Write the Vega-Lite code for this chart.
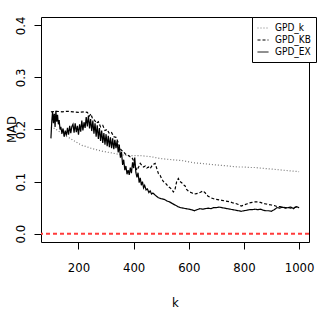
{
  "$schema": "https://vega.github.io/schema/vega-lite/v6.json",
  "autosize": {"type": "none"},
  "padding": {"left": 41, "top": 17, "right": 11, "bottom": 85},
  "width": 268,
  "height": 225,
  "config": {
    "view": {"stroke": "black", "strokeWidth": 1},
    "font": "Liberation Sans Narrow, DejaVu Sans Condensed, Liberation Sans",
    "axis": {"grid": false, "domain": false, "tickColor": "black", "tickSize": 7, "labelColor": "black", "titleColor": "black", "labelFontSize": 13, "titleFontSize": 13, "titleFontWeight": "normal", "labelFont": "Liberation Sans Narrow, DejaVu Sans Condensed, Liberation Sans", "titleFont": "Liberation Sans Narrow, DejaVu Sans Condensed, Liberation Sans"}
  },
  "layer": [
    {
      "data": {"values": [
        {"k":100,"s":"GPD_k","v":0.205},{"k":110,"s":"GPD_k","v":0.203},{"k":125,"s":"GPD_k","v":0.198},{"k":140,"s":"GPD_k","v":0.192},{"k":155,"s":"GPD_k","v":0.187},{"k":170,"s":"GPD_k","v":0.183},{"k":185,"s":"GPD_k","v":0.178},{"k":200,"s":"GPD_k","v":0.173},{"k":215,"s":"GPD_k","v":0.169},{"k":230,"s":"GPD_k","v":0.167},{"k":245,"s":"GPD_k","v":0.164},{"k":260,"s":"GPD_k","v":0.162},{"k":280,"s":"GPD_k","v":0.159},{"k":300,"s":"GPD_k","v":0.157},{"k":320,"s":"GPD_k","v":0.155},{"k":340,"s":"GPD_k","v":0.153},{"k":360,"s":"GPD_k","v":0.151},{"k":380,"s":"GPD_k","v":0.150},{"k":400,"s":"GPD_k","v":0.150},{"k":420,"s":"GPD_k","v":0.150},{"k":440,"s":"GPD_k","v":0.149},{"k":460,"s":"GPD_k","v":0.148},{"k":480,"s":"GPD_k","v":0.146},{"k":500,"s":"GPD_k","v":0.144},{"k":520,"s":"GPD_k","v":0.143},{"k":540,"s":"GPD_k","v":0.142},{"k":560,"s":"GPD_k","v":0.141},{"k":580,"s":"GPD_k","v":0.140},{"k":600,"s":"GPD_k","v":0.138},{"k":620,"s":"GPD_k","v":0.136},{"k":640,"s":"GPD_k","v":0.135},{"k":660,"s":"GPD_k","v":0.134},{"k":680,"s":"GPD_k","v":0.133},{"k":700,"s":"GPD_k","v":0.132},{"k":720,"s":"GPD_k","v":0.131},{"k":740,"s":"GPD_k","v":0.130},{"k":760,"s":"GPD_k","v":0.129},{"k":780,"s":"GPD_k","v":0.128},{"k":800,"s":"GPD_k","v":0.128},{"k":820,"s":"GPD_k","v":0.127},{"k":840,"s":"GPD_k","v":0.127},{"k":860,"s":"GPD_k","v":0.126},{"k":880,"s":"GPD_k","v":0.125},{"k":900,"s":"GPD_k","v":0.124},{"k":920,"s":"GPD_k","v":0.123},{"k":940,"s":"GPD_k","v":0.122},{"k":960,"s":"GPD_k","v":0.121},{"k":980,"s":"GPD_k","v":0.120},{"k":1000,"s":"GPD_k","v":0.119},
        {"k":100,"s":"GPD_KB","v":0.234},{"k":120,"s":"GPD_KB","v":0.235},{"k":140,"s":"GPD_KB","v":0.234},{"k":160,"s":"GPD_KB","v":0.235},{"k":180,"s":"GPD_KB","v":0.234},{"k":200,"s":"GPD_KB","v":0.233},{"k":220,"s":"GPD_KB","v":0.234},{"k":232,"s":"GPD_KB","v":0.233},{"k":240,"s":"GPD_KB","v":0.226},{"k":245,"s":"GPD_KB","v":0.230},{"k":250,"s":"GPD_KB","v":0.222},{"k":258,"s":"GPD_KB","v":0.218},{"k":265,"s":"GPD_KB","v":0.212},{"k":272,"s":"GPD_KB","v":0.215},{"k":280,"s":"GPD_KB","v":0.205},{"k":288,"s":"GPD_KB","v":0.208},{"k":296,"s":"GPD_KB","v":0.198},{"k":304,"s":"GPD_KB","v":0.200},{"k":312,"s":"GPD_KB","v":0.192},{"k":320,"s":"GPD_KB","v":0.194},{"k":328,"s":"GPD_KB","v":0.186},{"k":336,"s":"GPD_KB","v":0.185},{"k":344,"s":"GPD_KB","v":0.175},{"k":350,"s":"GPD_KB","v":0.164},{"k":356,"s":"GPD_KB","v":0.160},{"k":362,"s":"GPD_KB","v":0.158},{"k":370,"s":"GPD_KB","v":0.153},{"k":378,"s":"GPD_KB","v":0.151},{"k":386,"s":"GPD_KB","v":0.148},{"k":394,"s":"GPD_KB","v":0.146},{"k":400,"s":"GPD_KB","v":0.140},{"k":406,"s":"GPD_KB","v":0.128},{"k":412,"s":"GPD_KB","v":0.122},{"k":418,"s":"GPD_KB","v":0.128},{"k":424,"s":"GPD_KB","v":0.135},{"k":430,"s":"GPD_KB","v":0.131},{"k":436,"s":"GPD_KB","v":0.128},{"k":442,"s":"GPD_KB","v":0.130},{"k":448,"s":"GPD_KB","v":0.126},{"k":454,"s":"GPD_KB","v":0.128},{"k":460,"s":"GPD_KB","v":0.125},{"k":466,"s":"GPD_KB","v":0.130},{"k":472,"s":"GPD_KB","v":0.133},{"k":478,"s":"GPD_KB","v":0.135},{"k":484,"s":"GPD_KB","v":0.125},{"k":490,"s":"GPD_KB","v":0.115},{"k":496,"s":"GPD_KB","v":0.112},{"k":502,"s":"GPD_KB","v":0.105},{"k":508,"s":"GPD_KB","v":0.100},{"k":514,"s":"GPD_KB","v":0.098},{"k":520,"s":"GPD_KB","v":0.094},{"k":526,"s":"GPD_KB","v":0.090},{"k":532,"s":"GPD_KB","v":0.088},{"k":538,"s":"GPD_KB","v":0.085},{"k":544,"s":"GPD_KB","v":0.080},{"k":550,"s":"GPD_KB","v":0.085},{"k":556,"s":"GPD_KB","v":0.100},{"k":562,"s":"GPD_KB","v":0.106},{"k":568,"s":"GPD_KB","v":0.100},{"k":574,"s":"GPD_KB","v":0.098},{"k":580,"s":"GPD_KB","v":0.094},{"k":586,"s":"GPD_KB","v":0.092},{"k":592,"s":"GPD_KB","v":0.085},{"k":598,"s":"GPD_KB","v":0.082},{"k":604,"s":"GPD_KB","v":0.080},{"k":612,"s":"GPD_KB","v":0.078},{"k":620,"s":"GPD_KB","v":0.076},{"k":628,"s":"GPD_KB","v":0.077},{"k":636,"s":"GPD_KB","v":0.078},{"k":644,"s":"GPD_KB","v":0.080},{"k":652,"s":"GPD_KB","v":0.082},{"k":660,"s":"GPD_KB","v":0.078},{"k":670,"s":"GPD_KB","v":0.072},{"k":680,"s":"GPD_KB","v":0.069},{"k":690,"s":"GPD_KB","v":0.067},{"k":700,"s":"GPD_KB","v":0.066},{"k":710,"s":"GPD_KB","v":0.065},{"k":720,"s":"GPD_KB","v":0.064},{"k":730,"s":"GPD_KB","v":0.063},{"k":740,"s":"GPD_KB","v":0.062},{"k":750,"s":"GPD_KB","v":0.061},{"k":760,"s":"GPD_KB","v":0.059},{"k":770,"s":"GPD_KB","v":0.058},{"k":780,"s":"GPD_KB","v":0.056},{"k":790,"s":"GPD_KB","v":0.053},{"k":800,"s":"GPD_KB","v":0.055},{"k":810,"s":"GPD_KB","v":0.057},{"k":820,"s":"GPD_KB","v":0.059},{"k":830,"s":"GPD_KB","v":0.060},{"k":840,"s":"GPD_KB","v":0.061},{"k":850,"s":"GPD_KB","v":0.061},{"k":860,"s":"GPD_KB","v":0.060},{"k":870,"s":"GPD_KB","v":0.058},{"k":880,"s":"GPD_KB","v":0.057},{"k":890,"s":"GPD_KB","v":0.056},{"k":900,"s":"GPD_KB","v":0.055},{"k":910,"s":"GPD_KB","v":0.054},{"k":920,"s":"GPD_KB","v":0.052},{"k":930,"s":"GPD_KB","v":0.052},{"k":940,"s":"GPD_KB","v":0.051},{"k":950,"s":"GPD_KB","v":0.050},{"k":960,"s":"GPD_KB","v":0.050},{"k":970,"s":"GPD_KB","v":0.049},{"k":980,"s":"GPD_KB","v":0.050},{"k":990,"s":"GPD_KB","v":0.051},{"k":1000,"s":"GPD_KB","v":0.050},
        {"k":100,"s":"GPD_EX","v":0.183},{"k":103,"s":"GPD_EX","v":0.215},{"k":106,"s":"GPD_EX","v":0.234},{"k":109,"s":"GPD_EX","v":0.212},{"k":112,"s":"GPD_EX","v":0.230},{"k":115,"s":"GPD_EX","v":0.205},{"k":118,"s":"GPD_EX","v":0.236},{"k":121,"s":"GPD_EX","v":0.215},{"k":124,"s":"GPD_EX","v":0.228},{"k":127,"s":"GPD_EX","v":0.210},{"k":130,"s":"GPD_EX","v":0.218},{"k":133,"s":"GPD_EX","v":0.200},{"k":136,"s":"GPD_EX","v":0.205},{"k":140,"s":"GPD_EX","v":0.192},{"k":144,"s":"GPD_EX","v":0.202},{"k":148,"s":"GPD_EX","v":0.186},{"k":152,"s":"GPD_EX","v":0.198},{"k":156,"s":"GPD_EX","v":0.188},{"k":160,"s":"GPD_EX","v":0.203},{"k":164,"s":"GPD_EX","v":0.190},{"k":168,"s":"GPD_EX","v":0.207},{"k":172,"s":"GPD_EX","v":0.193},{"k":176,"s":"GPD_EX","v":0.206},{"k":180,"s":"GPD_EX","v":0.210},{"k":184,"s":"GPD_EX","v":0.194},{"k":188,"s":"GPD_EX","v":0.212},{"k":192,"s":"GPD_EX","v":0.195},{"k":196,"s":"GPD_EX","v":0.207},{"k":200,"s":"GPD_EX","v":0.190},{"k":204,"s":"GPD_EX","v":0.210},{"k":208,"s":"GPD_EX","v":0.196},{"k":212,"s":"GPD_EX","v":0.217},{"k":216,"s":"GPD_EX","v":0.198},{"k":220,"s":"GPD_EX","v":0.214},{"k":224,"s":"GPD_EX","v":0.203},{"k":228,"s":"GPD_EX","v":0.224},{"k":232,"s":"GPD_EX","v":0.206},{"k":236,"s":"GPD_EX","v":0.227},{"k":240,"s":"GPD_EX","v":0.202},{"k":244,"s":"GPD_EX","v":0.220},{"k":248,"s":"GPD_EX","v":0.197},{"k":252,"s":"GPD_EX","v":0.217},{"k":256,"s":"GPD_EX","v":0.192},{"k":260,"s":"GPD_EX","v":0.212},{"k":264,"s":"GPD_EX","v":0.186},{"k":268,"s":"GPD_EX","v":0.208},{"k":272,"s":"GPD_EX","v":0.182},{"k":276,"s":"GPD_EX","v":0.203},{"k":280,"s":"GPD_EX","v":0.178},{"k":284,"s":"GPD_EX","v":0.198},{"k":288,"s":"GPD_EX","v":0.174},{"k":292,"s":"GPD_EX","v":0.193},{"k":296,"s":"GPD_EX","v":0.171},{"k":300,"s":"GPD_EX","v":0.191},{"k":304,"s":"GPD_EX","v":0.168},{"k":308,"s":"GPD_EX","v":0.188},{"k":312,"s":"GPD_EX","v":0.166},{"k":316,"s":"GPD_EX","v":0.185},{"k":320,"s":"GPD_EX","v":0.164},{"k":324,"s":"GPD_EX","v":0.183},{"k":328,"s":"GPD_EX","v":0.162},{"k":332,"s":"GPD_EX","v":0.180},{"k":336,"s":"GPD_EX","v":0.164},{"k":340,"s":"GPD_EX","v":0.178},{"k":344,"s":"GPD_EX","v":0.156},{"k":348,"s":"GPD_EX","v":0.170},{"k":352,"s":"GPD_EX","v":0.146},{"k":356,"s":"GPD_EX","v":0.157},{"k":360,"s":"GPD_EX","v":0.132},{"k":364,"s":"GPD_EX","v":0.142},{"k":368,"s":"GPD_EX","v":0.122},{"k":372,"s":"GPD_EX","v":0.130},{"k":376,"s":"GPD_EX","v":0.114},{"k":380,"s":"GPD_EX","v":0.122},{"k":384,"s":"GPD_EX","v":0.113},{"k":388,"s":"GPD_EX","v":0.127},{"k":392,"s":"GPD_EX","v":0.116},{"k":396,"s":"GPD_EX","v":0.137},{"k":400,"s":"GPD_EX","v":0.126},{"k":404,"s":"GPD_EX","v":0.146},{"k":408,"s":"GPD_EX","v":0.118},{"k":412,"s":"GPD_EX","v":0.108},{"k":416,"s":"GPD_EX","v":0.117},{"k":420,"s":"GPD_EX","v":0.098},{"k":424,"s":"GPD_EX","v":0.107},{"k":428,"s":"GPD_EX","v":0.093},{"k":432,"s":"GPD_EX","v":0.100},{"k":436,"s":"GPD_EX","v":0.088},{"k":440,"s":"GPD_EX","v":0.093},{"k":445,"s":"GPD_EX","v":0.084},{"k":450,"s":"GPD_EX","v":0.086},{"k":455,"s":"GPD_EX","v":0.079},{"k":460,"s":"GPD_EX","v":0.082},{"k":465,"s":"GPD_EX","v":0.076},{"k":470,"s":"GPD_EX","v":0.078},{"k":480,"s":"GPD_EX","v":0.073},{"k":490,"s":"GPD_EX","v":0.069},{"k":500,"s":"GPD_EX","v":0.067},{"k":510,"s":"GPD_EX","v":0.066},{"k":520,"s":"GPD_EX","v":0.063},{"k":530,"s":"GPD_EX","v":0.061},{"k":540,"s":"GPD_EX","v":0.058},{"k":550,"s":"GPD_EX","v":0.055},{"k":560,"s":"GPD_EX","v":0.052},{"k":570,"s":"GPD_EX","v":0.050},{"k":580,"s":"GPD_EX","v":0.049},{"k":590,"s":"GPD_EX","v":0.048},{"k":600,"s":"GPD_EX","v":0.047},{"k":610,"s":"GPD_EX","v":0.046},{"k":620,"s":"GPD_EX","v":0.044},{"k":630,"s":"GPD_EX","v":0.046},{"k":640,"s":"GPD_EX","v":0.048},{"k":650,"s":"GPD_EX","v":0.047},{"k":660,"s":"GPD_EX","v":0.048},{"k":670,"s":"GPD_EX","v":0.049},{"k":680,"s":"GPD_EX","v":0.048},{"k":690,"s":"GPD_EX","v":0.050},{"k":700,"s":"GPD_EX","v":0.050},{"k":710,"s":"GPD_EX","v":0.051},{"k":720,"s":"GPD_EX","v":0.050},{"k":730,"s":"GPD_EX","v":0.049},{"k":740,"s":"GPD_EX","v":0.048},{"k":750,"s":"GPD_EX","v":0.047},{"k":760,"s":"GPD_EX","v":0.046},{"k":770,"s":"GPD_EX","v":0.045},{"k":780,"s":"GPD_EX","v":0.044},{"k":790,"s":"GPD_EX","v":0.043},{"k":800,"s":"GPD_EX","v":0.044},{"k":810,"s":"GPD_EX","v":0.045},{"k":820,"s":"GPD_EX","v":0.046},{"k":830,"s":"GPD_EX","v":0.046},{"k":840,"s":"GPD_EX","v":0.047},{"k":850,"s":"GPD_EX","v":0.046},{"k":860,"s":"GPD_EX","v":0.047},{"k":870,"s":"GPD_EX","v":0.045},{"k":880,"s":"GPD_EX","v":0.044},{"k":890,"s":"GPD_EX","v":0.044},{"k":900,"s":"GPD_EX","v":0.043},{"k":910,"s":"GPD_EX","v":0.046},{"k":920,"s":"GPD_EX","v":0.050},{"k":930,"s":"GPD_EX","v":0.049},{"k":940,"s":"GPD_EX","v":0.051},{"k":950,"s":"GPD_EX","v":0.049},{"k":960,"s":"GPD_EX","v":0.050},{"k":970,"s":"GPD_EX","v":0.051},{"k":980,"s":"GPD_EX","v":0.048},{"k":990,"s":"GPD_EX","v":0.052},{"k":1000,"s":"GPD_EX","v":0.050}
      ]},
      "mark": {"type": "line", "strokeWidth": 1.2, "clip": true},
      "encoding": {
        "x": {"field": "k", "type": "quantitative", "scale": {"domain": [64, 1036], "nice": false, "zero": false},
              "axis": {"values": [200, 400, 600, 800, 1000], "format": "d", "title": "k", "labelPadding": 12, "titlePadding": 22, "labelFlush": false}},
        "y": {"field": "v", "type": "quantitative", "scale": {"domain": [-0.016, 0.416], "nice": false, "zero": false},
              "axis": {"values": [0, 0.1, 0.2, 0.3, 0.4], "format": ".1f", "title": "MAD", "labelAngle": -90, "labelAlign": "center", "labelBaseline": "bottom", "labelPadding": 7, "titleX": -30, "titleY": 112, "titleAngle": -90, "titleAlign": "center", "titleBaseline": "middle", "labelFlush": false}},
        "color": {"field": "s", "type": "nominal", "sort": ["GPD_k", "GPD_KB", "GPD_EX"],
                  "scale": {"domain": ["GPD_k", "GPD_KB", "GPD_EX"], "range": ["#7a7a7a", "#000000", "#000000"]},
                  "legend": {"title": null, "orient": "none", "legendX": 211, "legendY": 0, "strokeColor": "black", "fillColor": "white", "padding": 5, "symbolType": "stroke", "symbolSize": 121, "symbolStrokeWidth": 1, "labelFontSize": 10, "labelFont": "Liberation Sans Narrow, DejaVu Sans Condensed, Liberation Sans", "labelColor": "black", "rowPadding": 1, "symbolOffset": 0, "labelOffset": 6, "cornerRadius": 0}},
        "strokeDash": {"field": "s", "type": "nominal", "sort": ["GPD_k", "GPD_KB", "GPD_EX"],
                  "scale": {"domain": ["GPD_k", "GPD_KB", "GPD_EX"], "range": [[1, 2], [3, 2], [1, 0]]}},
        "order": {"field": "k", "type": "quantitative"}
      }
    },
    {
      "data": {"values": [{"ref": 0}]},
      "mark": {"type": "rule", "color": "#ff3b3b", "strokeWidth": 2, "strokeDash": [4, 3]},
      "encoding": {"y": {"field": "ref", "type": "quantitative"}}
    }
  ]
}
